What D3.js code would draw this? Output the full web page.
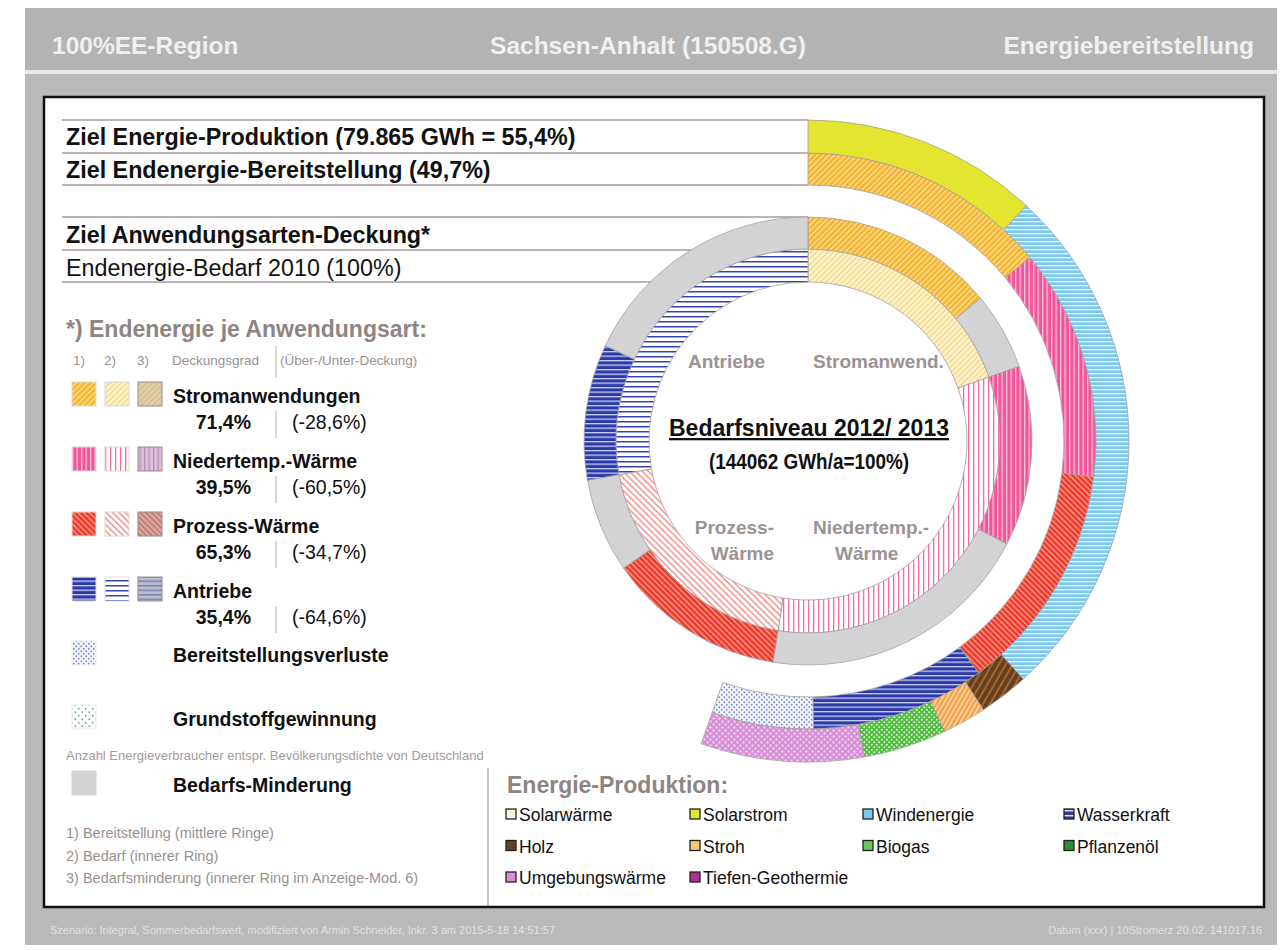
<!DOCTYPE html>
<html>
<head>
<meta charset="utf-8">
<script src="https://cdn.jsdelivr.net/npm/d3@7"></script>
<style>
	body { margin: 0; background: #fff; }
	svg { font-family: "Liberation Sans", Arial, sans-serif; }
</style>
</head>
<body>
<div id="chart"></div>
<script>
	// Anwendungsarten (inner rings)
	var categories = ["Stromanwendungen", "Niedertemp.-Wärme", "Prozess-Wärme", "Antriebe"];
	var bedarf2010 = [19.6, 32.9, 19.7, 27.8];          // % of Bedarf, inner ring
	var deckung = [14.0, 13.0, 12.9, 9.8];               // % covered (rings 1)
	var deckungsgrad = ["71,4%", "39,5%", "65,3%", "35,4%"];
	var unterdeckung = ["(-28,6%)", "(-60,5%)", "(-34,7%)", "(-64,6%)"];
	var verluste = 5.7;                                  // Bereitstellungsverluste

	// Energie-Produktion (outer ring)
	var prodNames = ["Solarstrom", "Windenergie", "Holz", "Stroh", "Biogas", "Umgebungswärme"];
	var prodValues = [11.9, 26.4, 2.5, 2.2, 4.2, 8.2];

	var legendNames = ["Solarwärme", "Solarstrom", "Windenergie", "Wasserkraft",
		"Holz", "Stroh", "Biogas", "Pflanzenöl",
		"Umgebungswärme", "Tiefen-Geothermie"];
	var rowLabels = ["Ziel Energie-Produktion (79.865 GWh = 55,4%)", "Ziel Endenergie-Bereitstellung (49,7%)",
		"Ziel Anwendungsarten-Deckung*", "Endenergie-Bedarf 2010 (100%)"];

	var width = 1281, height = 950;
	var cx = 808, cy = 441;

	var svg = d3.select("#chart").append("svg")
		.attr("width", width)
		.attr("height", height);

	var defs = svg.append("defs");

	function stripes(id, bg, fg, size, lw, angle) {
		var p = defs.append("pattern").attr("id", id)
			.attr("patternUnits", "userSpaceOnUse")
			.attr("width", size).attr("height", size)
			.attr("patternTransform", "rotate(" + angle + ")");
		p.append("rect").attr("width", size).attr("height", size).attr("fill", bg);
		p.append("rect").attr("width", lw).attr("height", size).attr("fill", fg);
	}
	function dots(id, bg, fg, size, r) {
		var p = defs.append("pattern").attr("id", id)
			.attr("patternUnits", "userSpaceOnUse")
			.attr("width", size).attr("height", size);
		p.append("rect").attr("width", size).attr("height", size).attr("fill", bg);
		p.append("circle").attr("cx", size / 4).attr("cy", size / 4).attr("r", r).attr("fill", fg);
		p.append("circle").attr("cx", size * 3 / 4).attr("cy", size * 3 / 4).attr("r", r).attr("fill", fg);
	}

	// 1) Bereitstellung, 2) Bedarf, 3) Bedarfsminderung
	stripes("strom1", "#f4b632", "#fde3a0", 4, 1.2, 45);
	stripes("strom2", "#fdf1c8", "#f3d27c", 4, 1, 45);
	stripes("strom3", "#d6c198", "#ead9b8", 4, 1.2, 45);
	stripes("nied1", "#f0559a", "#fbc0da", 4.5, 1.3, 0);
	stripes("nied2", "#ffffff", "#f06ea8", 5, 1.3, 0);
	stripes("nied3", "#dbbfd6", "#b68cb0", 4.5, 1.3, 0);
	stripes("proz1", "#ee3a2c", "#fba898", 4, 1.2, -45);
	stripes("proz2", "#ffffff", "#f28a82", 4.5, 1.4, -45);
	stripes("proz3", "#d8a8a0", "#b87068", 4, 1.3, -45);
	stripes("antr1", "#2b3aa6", "#c8d0f4", 4.5, 1.3, 90);
	stripes("antr2", "#ffffff", "#3444ae", 5, 1.5, 90);
	stripes("antr3", "#b8bdd2", "#7b82a8", 4.5, 1.5, 90);
	dots("verl", "#f3f4fb", "#7f8cc6", 5, 0.9);
	dots("grund", "#ffffff", "#6aa6a6", 7, 0.9);
	stripes("wind", "#7ec8ef", "#e4f4fd", 4, 1.3, 90);
	stripes("holz", "#6a3f1e", "#9b6a3a", 6, 2, 30);
	stripes("stroh", "#f8a048", "#fde2c0", 4, 1.3, 30);
	stripes("wasser", "#2c3aa6", "#e0e4f8", 5, 1.4, 90);
	dots("biogas", "#4cbd3b", "#e8f8e0", 5, 1);
	dots("umgeb", "#d68ed6", "#f4cdf2", 6, 1.2);

	var gray = "#d3d3d6";
	var catPat = [["strom1", "strom2", "strom3"], ["nied1", "nied2", "nied3"],
		["proz1", "proz2", "proz3"], ["antr1", "antr2", "antr3"]];
	var prodFill = ["#e3e52e", "url(#wind)", "url(#holz)", "url(#stroh)", "url(#biogas)", "url(#umgeb)"];

	// page frame
	svg.append("rect").attr("x", 25).attr("y", 8).attr("width", 1252).attr("height", 937).attr("fill", "#b9b9b9");
	svg.append("rect").attr("x", 25).attr("y", 8).attr("width", 1252).attr("height", 62).attr("fill", "#b3b3b3");
	svg.append("rect").attr("x", 25).attr("y", 70).attr("width", 1252).attr("height", 4).attr("fill", "#e9e9e9");
	svg.append("rect").attr("x", 44).attr("y", 97).attr("width", 1220).attr("height", 810)
		.attr("fill", "#fff").attr("stroke", "#111").attr("stroke-width", 2.5);

	var head = svg.append("g").attr("font-size", 24.5).attr("font-weight", "bold").attr("fill", "#f0f0f0");
	head.append("text").attr("x", 52).attr("y", 54).text("100%EE-Region");
	head.append("text").attr("x", 648).attr("y", 54).attr("text-anchor", "middle").text("Sachsen-Anhalt (150508.G)");
	head.append("text").attr("x", 1254).attr("y", 54).attr("text-anchor", "end").text("Energiebereitstellung");

	var foot = svg.append("g").attr("font-size", 11).attr("fill", "#e2e2e2");
	foot.append("text").attr("x", 50).attr("y", 934).text("Szenario: Integral, Sommerbedarfswert, modifiziert von Armin Schneider, Inkr. 3 am 2015-5-18 14:51:57");
	foot.append("text").attr("x", 1262).attr("y", 934).attr("text-anchor", "end").text("Datum (xxx) | 10Stromerz 20.02. 141017.16");

	// row bands on the left
	var bandY = [120, 153, 185, 217, 250, 282];
	svg.selectAll("line.band").data(bandY).enter().append("line")
		.attr("x1", 62).attr("x2", cx).attr("y1", function (d) { return d; }).attr("y2", function (d) { return d; })
		.attr("stroke", "#bcb4b4").attr("stroke-width", 1.8);
	var rowBase = [145, 178, 243, 276];
	svg.selectAll("text.row").data(rowLabels).enter().append("text")
		.attr("x", 66).attr("y", function (d, i) { return rowBase[i]; })
		.attr("font-size", 23.3).attr("font-weight", function (d, i) { return i < 3 ? "bold" : "normal"; })
		.attr("fill", "#111").text(function (d) { return d; });

	// rings
	var angle = d3.scaleLinear().domain([0, 100]).range([0, 2 * Math.PI]);
	var arc = d3.arc();
	var g = svg.append("g").attr("transform", "translate(" + cx + "," + cy + ")");

	function ring(segs, r0, r1) {
		var acc = 0;
		segs.forEach(function (s) { s.a0 = acc; acc += s.v; s.a1 = acc; });
		g.append("g").selectAll("path").data(segs).enter().append("path")
			.attr("d", function (s) {
				return arc({ innerRadius: r0, outerRadius: r1, startAngle: angle(s.a0), endAngle: angle(s.a1) });
			})
			.attr("fill", function (s) { return s.fill; })
			.attr("stroke", "#a7a0a0").attr("stroke-width", 0.8);
	}

	// inner ring: Bedarf 2010
	ring(bedarf2010.map(function (v, i) { return { v: v, fill: "url(#" + catPat[i][1] + ")" }; }), 159, 192);
	// ring 2: Deckung + Bedarfs-Minderung
	var segB = [];
	deckung.forEach(function (v, i) {
		segB.push({ v: v, fill: "url(#" + catPat[i][0] + ")" });
		segB.push({ v: bedarf2010[i] - v, fill: gray });
	});
	ring(segB, 192, 224);
	// ring 3: Endenergie-Bereitstellung + Verluste
	var segC = deckung.map(function (v, i) { return { v: v, fill: "url(#" + catPat[i][0] + ")" }; });
	segC.push({ v: verluste, fill: "url(#verl)" });
	ring(segC, 256, 288);
	// ring 4: Energie-Produktion
	ring(prodValues.map(function (v, i) { return { v: v, fill: prodFill[i] }; }), 288, 321);

	// labels inside the rings
	var lab = svg.append("g").attr("font-size", 19).attr("font-weight", "bold").attr("fill", "#9c9292");
	lab.append("text").attr("x", 765).attr("y", 368).attr("text-anchor", "end").text("Antriebe");
	lab.append("text").attr("x", 813).attr("y", 368).text("Stromanwend.");
	lab.append("text").attr("x", 774).attr("y", 534).attr("text-anchor", "end").text("Prozess-");
	lab.append("text").attr("x", 774).attr("y", 560).attr("text-anchor", "end").text("Wärme");
	lab.append("text").attr("x", 813).attr("y", 534).text("Niedertemp.-");
	lab.append("text").attr("x", 835).attr("y", 560).text("Wärme");

	svg.append("text").attr("x", cx + 1).attr("y", 436).attr("text-anchor", "middle")
		.attr("font-size", 23).attr("font-weight", "bold").attr("text-decoration", "underline")
		.attr("fill", "#111").text("Bedarfsniveau 2012/ 2013");
	// condensed look, like Arial Narrow
	svg.append("text").attr("transform", "translate(" + (cx + 1) + ",469) scale(0.86,1)").attr("text-anchor", "middle")
		.attr("font-size", 22).attr("font-weight", "bold").attr("fill", "#111").text("(144062 GWh/a=100%)");

	// left legend
	var leg = svg.append("g");
	leg.append("text").attr("x", 66).attr("y", 337).attr("font-size", 23).attr("font-weight", "bold")
		.attr("fill", "#8e8484").text("*) Endenergie je Anwendungsart:");
	var small = leg.append("g").attr("font-size", 13.5).attr("fill", "#9a9090");
	[["1)", 73], ["2)", 104], ["3)", 137], ["Deckungsgrad", 172], ["(Über-/Unter-Deckung)", 280]].forEach(function (t) {
		small.append("text").attr("x", t[1]).attr("y", 365).text(t[0]);
	});
	leg.append("line").attr("x1", 276).attr("x2", 276).attr("y1", 346).attr("y2", 378).attr("stroke", "#bbb0b0");

	var rowTop = [382, 447, 512, 577];
	categories.forEach(function (c, i) {
		var y0 = rowTop[i];
		catPat[i].forEach(function (p, k) {
			leg.append("rect").attr("x", 72 + k * 33).attr("y", y0).attr("width", 24).attr("height", 24)
				.attr("fill", "url(#" + p + ")").attr("stroke", k === 2 ? "#9a8a8a" : "#e0d8d8").attr("stroke-width", 1);
		});
		leg.append("text").attr("x", 173).attr("y", y0 + 21).attr("font-size", 19.5).attr("font-weight", "bold")
			.attr("fill", "#111").text(c);
		leg.append("text").attr("x", 251).attr("y", y0 + 47).attr("text-anchor", "end").attr("font-size", 19.5)
			.attr("font-weight", "bold").attr("fill", "#111").text(deckungsgrad[i]);
		leg.append("line").attr("x1", 276).attr("x2", 276).attr("y1", y0 + 29).attr("y2", y0 + 56).attr("stroke", "#bbb0b0");
		leg.append("text").attr("x", 292).attr("y", y0 + 47).attr("font-size", 19.5).attr("fill", "#111").text(unterdeckung[i]);
	});

	var extra = [["verl", "Bereitstellungsverluste", 641], ["grund", "Grundstoffgewinnung", 705], ["mind", "Bedarfs-Minderung", 771]];
	extra.forEach(function (e) {
		leg.append("rect").attr("x", 72).attr("y", e[2]).attr("width", 24).attr("height", 24)
			.attr("fill", e[0] === "mind" ? gray : "url(#" + e[0] + ")").attr("stroke", e[0] === "mind" ? gray : "#eeeeee");
		leg.append("text").attr("x", 173).attr("y", e[2] + 21).attr("font-size", 19.5).attr("font-weight", "bold")
			.attr("fill", "#111").text(e[1]);
	});
	leg.append("text").attr("x", 66).attr("y", 760).attr("font-size", 13).attr("fill", "#a39b9b")
		.text("Anzahl Energieverbraucher entspr. Bevölkerungsdichte von Deutschland");
	var notes = ["1) Bereitstellung (mittlere Ringe)", "2) Bedarf (innerer Ring)", "3) Bedarfsminderung (innerer Ring im Anzeige-Mod. 6)"];
	leg.selectAll("text.note").data(notes).enter().append("text")
		.attr("x", 66).attr("y", function (d, i) { return 838 + i * 22.5; })
		.attr("font-size", 14.5).attr("fill", "#9a9090").text(function (d) { return d; });
	leg.append("line").attr("x1", 488).attr("x2", 488).attr("y1", 768).attr("y2", 906).attr("stroke", "#a89c9c").attr("stroke-width", 1.2);

	// Energie-Produktion legend
	var pl = svg.append("g");
	pl.append("text").attr("x", 507).attr("y", 793).attr("font-size", 23).attr("font-weight", "bold")
		.attr("fill", "#8e8484").text("Energie-Produktion:");
	var legFill = ["#f8f4dc", "#e3e52e", "#7ec8ef", "url(#wasser)", "#6a3f1e", "#f3c878", "#6cc75a", "#2e8a3c", "#d68ed6", "#b02c96"];
	var colX = [506, 690, 863, 1064];
	legendNames.forEach(function (n, i) {
		var x = colX[i % 4], y = 821 + Math.floor(i / 4) * 31.5;
		pl.append("rect").attr("x", x).attr("y", y - 12).attr("width", 10).attr("height", 10)
			.attr("fill", legFill[i]).attr("stroke", "#222").attr("stroke-width", 1.3);
		pl.append("text").attr("x", x + 13).attr("y", y).attr("font-size", 17.5)
			.attr("fill", "#111").text(n);
	});
</script>
</body>
</html>
